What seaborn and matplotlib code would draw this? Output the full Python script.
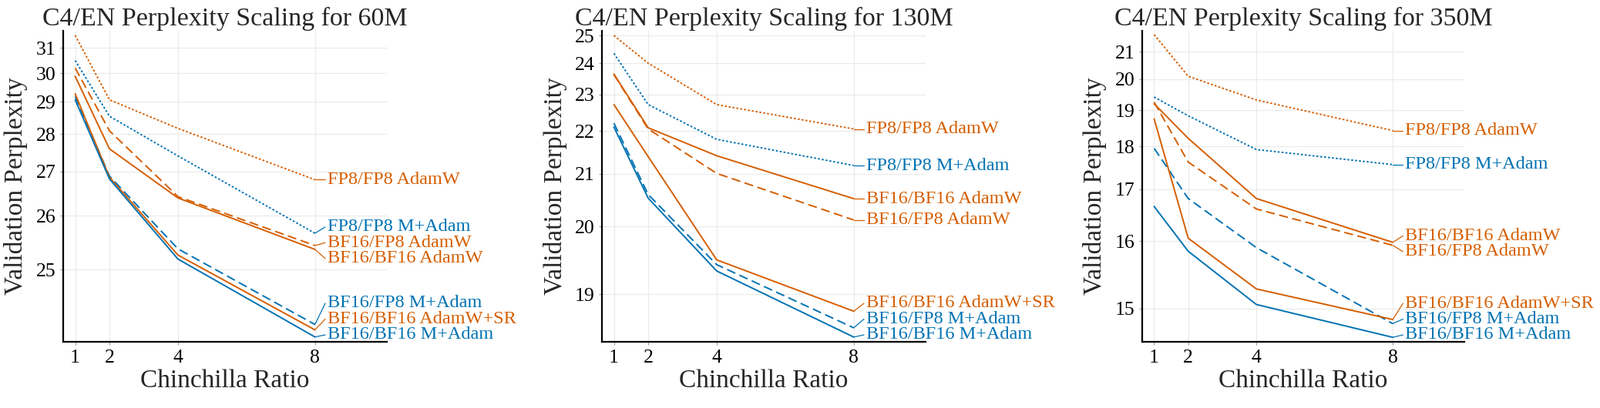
import numpy as np
import pandas as pd
import seaborn as sns
import matplotlib.pyplot as plt

# chinchilla ratio on the x axis
ratios = [1, 2, 4, 8]

series = ["FP8/FP8 AdamW", "FP8/FP8 M+Adam", "BF16/FP8 AdamW", "BF16/BF16 AdamW",
          "BF16/FP8 M+Adam", "BF16/BF16 AdamW+SR", "BF16/BF16 M+Adam"]

# validation perplexity per model size, one row per series (same order as `series`)
ppl_60m = [
    [31.53, 29.07, 28.17, 26.80],
    [30.49, 28.54, 27.40, 25.65],
    [30.20, 28.10, 26.41, 25.42],
    [29.89, 27.59, 26.38, 25.35],
    [29.18, 26.89, 25.36, 24.19],
    [29.27, 26.86, 25.25, 24.12],
    [29.07, 26.82, 25.18, 24.03],
]
ppl_130m = [
    [25.00, 24.00, 22.71, 22.05],
    [24.34, 22.71, 21.79, 21.18],
    [23.62, 22.05, 21.01, 20.11],
    [23.64, 22.08, 21.40, 20.50],
    [22.20, 20.58, 19.40, 18.60],
    [22.71, 21.38, 19.47, 18.79],
    [22.10, 20.51, 19.31, 18.50],
]
ppl_350m = [
    [21.68, 20.10, 19.32, 18.42],
    [19.41, 18.84, 17.92, 17.55],
    [19.25, 17.61, 16.59, 15.93],
    [19.20, 18.21, 16.80, 15.98],
    [17.95, 16.80, 15.89, 14.81],
    [18.75, 16.05, 15.26, 14.86],
    [16.64, 15.83, 15.05, 14.65],
]

model_sizes = ["60M", "130M", "350M"]
yticks = [list(range(25, 32)), list(range(19, 26)), list(range(15, 22))]

ORANGE = "#D55E00"
BLUE = "#0072B2"
palette = {s: (BLUE if "M+Adam" in s else ORANGE) for s in series}
dashes = {}
for s in series:
    if s.startswith("FP8/FP8"):
        dashes[s] = (1.3, 1.3)
    elif "/FP8" in s:
        dashes[s] = (6, 3)
    else:
        dashes[s] = ""

# layout (pixels)
W, H = 2076, 530
axes_px = [(82, 502), (781, 1201), (1482, 1900)]
ax_top, ax_bot = 40, 444
y_offsets = [21, 16, 12]          # log(y - offset) scale per panel
ylims = [(23.97, 31.73), (18.45, 25.18), (14.6, 21.84)]
ylabel_px = 61

sns.set_theme(style="whitegrid")
plt.rcParams["font.family"] = ["Liberation Serif", "DejaVu Serif"]

fig = plt.figure(figsize=(W / 100, H / 100), dpi=100)


def spread(vals, gap, lo, hi):
    # simple repel: keep labels at least `gap` apart, inside [lo, hi]
    order = np.argsort(vals)
    v = np.asarray(vals)[order]
    groups = [[i] for i in range(len(v))]
    while True:
        pos = []
        for g in groups:
            c = np.mean(v[g])
            p = c + (np.arange(len(g)) - (len(g) - 1) / 2) * gap
            if p[0] < lo:
                p += lo - p[0]
            if p[-1] > hi:
                p -= p[-1] - hi
            pos.append(p)
        merged = False
        for k in range(len(groups) - 1):
            if pos[k + 1][0] - pos[k][-1] < gap - 1e-6:
                groups[k] = groups[k] + groups[k + 1]
                del groups[k + 1]
                merged = True
                break
        if not merged:
            break
    out = np.empty(len(v))
    out[order] = np.concatenate(pos)
    return out


for i, (size, data) in enumerate(zip(model_sizes, [ppl_60m, ppl_130m, ppl_350m])):
    left, right = axes_px[i]
    ax = fig.add_axes([left / W, (H - ax_bot) / H, (right - left) / W, (ax_bot - ax_top) / H])
    off = y_offsets[i]
    ax.set_yscale("function", functions=(lambda y, o=off: np.log(np.clip(y - o, 1e-6, None)),
                                         lambda t, o=off: np.exp(t) + o))

    df = pd.DataFrame([{"series": s, "ratio": r, "ppl": v}
                       for s, row in zip(series, data) for r, v in zip(ratios, row)])
    sns.lineplot(data=df, x="ratio", y="ppl", hue="series", style="series",
                 palette=palette, dashes=dashes, estimator=None, linewidth=1.4,
                 legend=False, ax=ax)

    ax.set_xlim(0.65, 10.1)
    ax.set_ylim(*ylims[i])
    ax.set_xticks(ratios, labels=[str(r) for r in ratios])
    ax.set_yticks(yticks[i], labels=[str(t) for t in yticks[i]])
    ax.minorticks_off()
    ax.grid(True, color="#EBEBEB", linewidth=0.9)
    ax.set_axisbelow(True)
    for sp in ["top", "right"]:
        ax.spines[sp].set_visible(False)
    for sp in ["left", "bottom"]:
        ax.spines[sp].set_color("black")
        ax.spines[sp].set_linewidth(1.6)
    ax.tick_params(axis="both", which="major", length=3, width=0.8, color="#9a9a9a",
                   labelsize=18.5, labelcolor="black", pad=4, left=True, bottom=True)

    ax.set_xlabel("Chinchilla Ratio", fontsize=24, labelpad=3)
    ax.set_ylabel("Validation Perplexity", fontsize=24)
    ax.yaxis.label.set_va("center")
    ax.yaxis.set_label_coords(-ylabel_px / (right - left), 0.5)
    ax.set_title(f"C4/EN Perplexity Scaling for {size}", fontsize=24.5, pad=5)

    # end labels with leader segments
    ends = [row[-1] for row in data]
    disp = [ax.transData.transform((8, e))[1] for e in ends]
    lab = spread(disp, 20.5, H - ax_bot + 9, H - ax_top - 9)
    inv = ax.transData.inverted()
    for s, e, ly in zip(series, ends, lab):
        ydat = inv.transform((0, ly))[1]
        ax.plot([8, 8.3], [e, ydat], color=palette[s], linewidth=0.9, clip_on=False)
        ax.text(8.36, ydat, s, color=palette[s], fontsize=17.5, ha="left", va="center",
                clip_on=False)

fig.savefig("out.png", dpi=100)
